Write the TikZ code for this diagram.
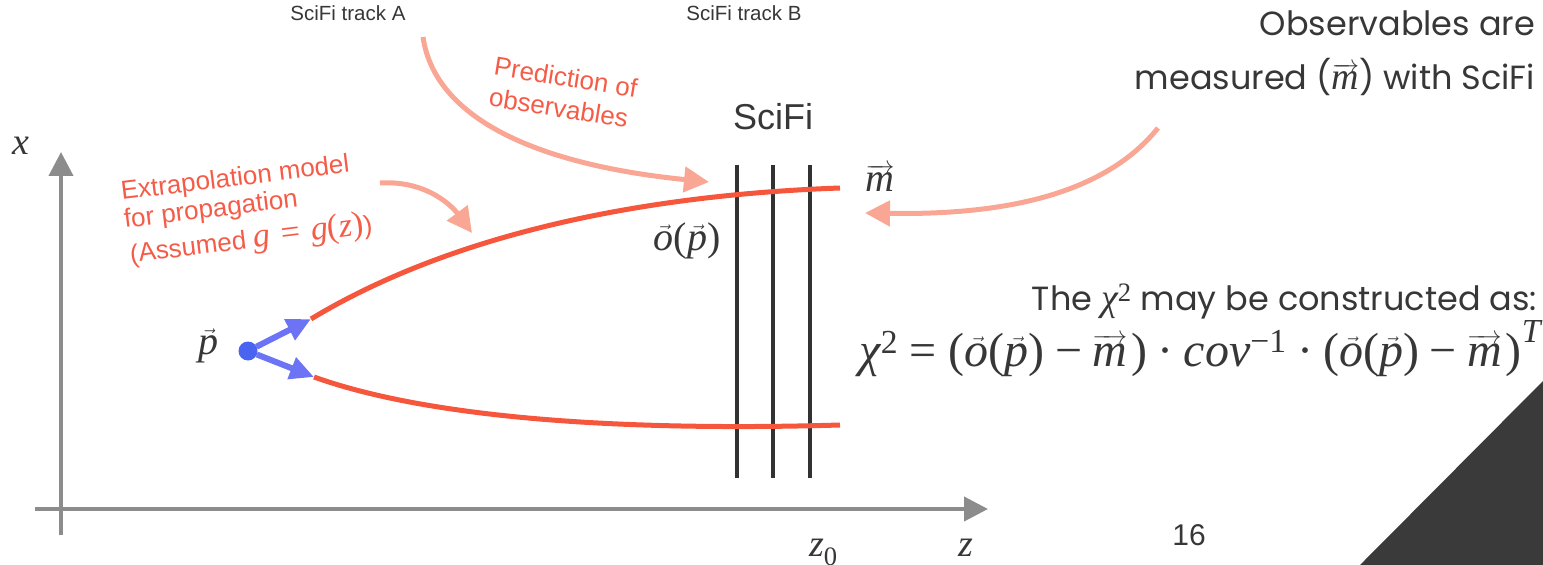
\documentclass[tikz,border=0pt]{standalone}
\usepackage{amsmath}
\usepackage{fontspec}
\setmainfont{Liberation Sans}
\newfontfamily\qs{Poppins}
\newfontfamily\tm{Liberation Serif}
\newcommand\tv[1]{\text{\tm\itshape #1}}
\newcommand\tu[1]{\text{\tm #1}}
\newcommand\vo{\vec{\tv{o}}}
\newcommand\vp{\vec{\tv{p}}}
\newcommand\vm{\overrightarrow{\tv{m}}}
\newcommand\opar{\tu{(}}
\newcommand\cpar{\tu{)}}
\newcommand\teq{\mathrel{\tu{=}}}
\newcommand\tmin{\mathbin{\tu{−}}}
\newcommand\tdot{\mathbin{\tu{·}}}
\usetikzlibrary{arrows.meta}
\definecolor{trk}{RGB}{245,86,60}
\definecolor{sal}{RGB}{250,166,148}
\definecolor{lbl}{RGB}{245,92,72}
\definecolor{blu}{RGB}{108,116,245}
\definecolor{bdot}{RGB}{72,100,240}
\definecolor{axg}{RGB}{140,140,140}
\definecolor{dk}{RGB}{50,50,50}
\definecolor{tri}{RGB}{58,58,58}
\definecolor{txt}{RGB}{55,55,55}
\newcommand\fsz[2]{\fontsize{#1bp}{#2bp}\selectfont}
\begin{document}
\begin{tikzpicture}[x=1bp,y=-1bp,
  every node/.style={inner sep=0pt,outer sep=0pt,text=txt},
  axis/.style={draw=axg,line width=4bp,-{Triangle[length=24bp,width=24bp]}},
  det/.style={draw=dk,line width=4.5bp},
  track/.style={draw=trk,line width=5bp},
  barrow/.style={draw=blu,line width=6bp,-{Triangle[length=24bp,width=22bp]}},
  sarrow/.style={draw=sal,line width=5bp,-{Triangle[length=25bp,width=25bp]}},
  redtxt/.style={text=lbl,font=\fsz{26}{30}},
  small/.style={font=\fsz{20.5}{24}},
  mlab/.style={font=\fsz{40}{44}},
  qtxt/.style={font=\qs\fsz{33.5}{40}}]
\useasboundingbox (0,0) rectangle (1543,565);
% page corner triangle
\fill[tri] (1360,565) -- (1543,381) -- (1543,565) -- cycle;
% axes
\coordinate (xb) at (61,535); \coordinate (xt) at (61,152);
\coordinate (zl) at (35,509); \coordinate (zr) at (988,509);
\draw[axis] (xb) -- (xt);
\draw[axis] (zl) -- (zr);
\node[mlab,font=\fsz{38}{40}] (xlab) at (21,146) {$\tv{x}$};
\node[mlab,font=\fsz{38}{40},anchor=base] (zlab) at (966,556) {$\tv{z}$};
\node[mlab,font=\fsz{38}{40},anchor=base west] (z0lab) at (809,556) {$\tv{z}_{\tu{0}}$};
% detector planes
\foreach \i/\xx in {1/737,2/773,3/810}{
  \coordinate (d\i t) at (\xx,165); \coordinate (d\i b) at (\xx,478);
  \draw[det] (d\i t) -- (d\i b);
}
\node[font=\fsz{36}{40}] (scifi) at (773,117) {SciFi};
% tracks
\coordinate (ua) at (311,319); \coordinate (ue) at (840,188);
\coordinate (la) at (314,377); \coordinate (le) at (840,425);
\draw[track] (ua) .. controls (450,235) and (640,195) .. (ue);
\draw[track] (la) .. controls (420,415) and (600,432) .. (le);
% start point
\node[circle,fill=bdot,minimum size=19bp] (pdot) at (248,351) {};
\draw[barrow] (pdot) -- (ua);
\draw[barrow] (pdot) -- (la);
% labels
\node[mlab] (plab) at (208,346) {$\vp$};
\node[mlab] (olab) at (687,241) {$\vo\opar\vp\cpar$};
\node[mlab] (mlab) at (880,178) {$\vm$};
\node[small] (trA) at (348,13) {SciFi track A};
\node[small] (trB) at (744,13) {SciFi track B};
% red annotations
\node[redtxt,rotate=-9,anchor=base west] (pred1) at (493,75) {Prediction of};
\node[redtxt,rotate=-9,anchor=base west] (pred2) at (488,106) {observables};
\node[redtxt,rotate=7,anchor=base west] (ext1) at (122,200) {Extrapolation model};
\node[redtxt,rotate=7,anchor=base west] (ext2) at (125,228) {for propagation};
\node[redtxt,rotate=7,anchor=base west] (ext3) at (131,263) {(Assumed {\fsz{34}{36}\thickmuskip=8mu$\tv{g}\teq\tv{g}\opar\tv{z}\cpar$})};
% salmon arrows
\coordinate (pa0) at (423,37); \coordinate (pa1) at (709,182);
\draw[sarrow] (pa0) .. controls (435,120) and (540,165) .. (pa1);
\coordinate (ea0) at (380,183); \coordinate (ea1) at (472,233);
\draw[sarrow] (ea0) .. controls (430,180) and (455,210) .. (ea1);
\coordinate (oa0) at (1158,128); \coordinate (oa1) at (865,213);
\draw[sarrow] (oa0) .. controls (1100,200) and (990,215) .. (oa1);
% right texts
\node[qtxt,anchor=base east] (obs1) at (1535,36) {Observables are};
\node[qtxt,anchor=base east] (obs2) at (1535,90) {measured ({\fsz{38}{40}$\vm$}) with SciFi};
\node[qtxt,anchor=base east] (chi1) at (1537,310) {The {\fsz{38}{40}$\tv{χ}^{\tu{2}}$} may be constructed as:};
\node[anchor=base east,font=\fsz{48}{52}] (chi2) at (1541,366) {\thickmuskip=8.5mu\medmuskip=7.5mu$\tv{χ}^{\tu{2}}\teq\opar\vo\opar\vp\cpar\tmin\vm\,\cpar\tdot\tv{cov}^{\tu{−1}}\tdot\opar\vo\opar\vp\cpar\tmin\vm\,\cpar^{\tv{T}}$};
\node[font=\fsz{30}{34}] (pg) at (1189,535) {16};
\end{tikzpicture}
\end{document}
